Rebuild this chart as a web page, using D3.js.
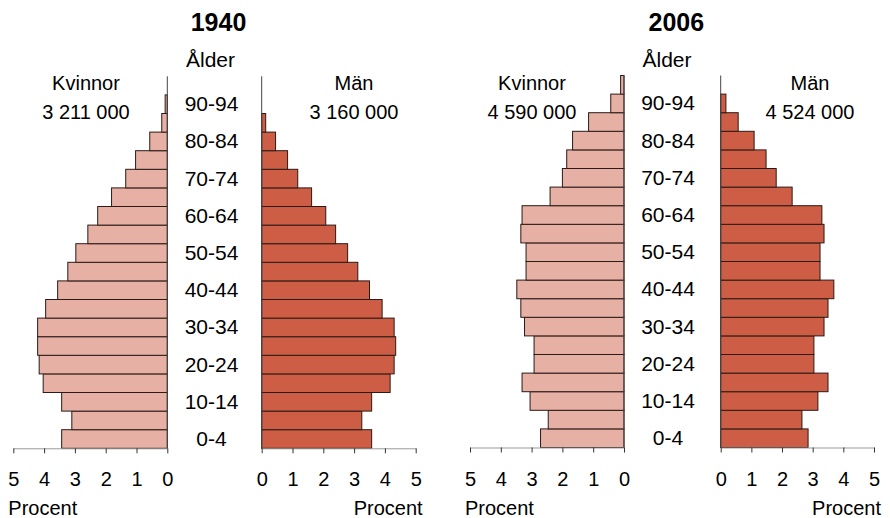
<!DOCTYPE html>
<html>
<head>
<meta charset="utf-8">
<script src="https://cdn.jsdelivr.net/npm/d3@7"></script>
<style>
  body { margin: 0; background: #fff; }
  text { font-family: 'Liberation Sans', Arial, sans-serif; fill: #000; }
</style>
</head>
<body>
<svg width="890" height="518"></svg>
<script>
// age groups, bottom to top
const ageGroups = ['0-4', '5-9', '10-14', '15-19', '20-24', '25-29', '30-34', '35-39',
  '40-44', '45-49', '50-54', '55-59', '60-64', '65-69', '70-74', '75-79',
  '80-84', '85-89', '90-94', '95+'];

// percent of population
const women1940 = [3.43, 3.10, 3.43, 4.03, 4.16, 4.21, 4.21, 3.95, 3.56, 3.23,
  2.97, 2.58, 2.26, 1.81, 1.35, 1.03, 0.57, 0.18, 0.07, 0];
const men1940 = [3.57, 3.25, 3.57, 4.17, 4.30, 4.35, 4.30, 3.91, 3.50, 3.12,
  2.79, 2.40, 2.08, 1.62, 1.17, 0.84, 0.45, 0.13, 0, 0];
const women2006 = [2.71, 2.46, 3.05, 3.31, 2.92, 2.92, 3.23, 3.35, 3.48, 3.18,
  3.18, 3.35, 3.31, 2.40, 2.00, 1.86, 1.67, 1.15, 0.43, 0.11];
const men2006 = [2.85, 2.65, 3.17, 3.50, 3.04, 3.04, 3.37, 3.50, 3.69, 3.24,
  3.24, 3.37, 3.30, 2.33, 1.81, 1.48, 1.09, 0.57, 0.17, 0];

const years = ['1940', '2006'];
const womenTotals = ['3 211 000', '4 590 000'];
const menTotals = ['3 160 000', '4 524 000'];
const tickValues = [0, 1, 2, 3, 4, 5];

const womenColor = '#e6b0a5';
const menColor = '#cd5e45';
const barStroke = '#2b1a15';

const svg = d3.select('svg');

const panels = [
  { year: years[0], women: women1940, men: men1940, wTot: womenTotals[0], mTot: menTotals[0],
    wx: [167.3, 13.3], mx: [261.7, 415.7], bottom: 448.3, labelX: 211.5, wText: 86, mText: 354 },
  { year: years[1], women: women2006, men: men2006, wTot: womenTotals[1], mTot: menTotals[1],
    wx: [624, 470], mx: [720.7, 874], bottom: 447.5, labelX: 668, wText: 532, mText: 810 }
];

panels.forEach(p => {
  const g = svg.append('g');
  const y = d3.scaleBand()
    .domain(ageGroups)
    .range([p.bottom, p.bottom - 18.6 * ageGroups.length])
    .padding(0);
  const xW = d3.scaleLinear().domain([0, 5]).range(p.wx);
  const xM = d3.scaleLinear().domain([0, 5]).range(p.mx);

  // bars
  g.selectAll('rect.w')
    .data(ageGroups.map((a, i) => ({ age: a, v: p.women[i] })).filter(d => d.v > 0))
    .join('rect')
    .attr('class', 'w')
    .attr('x', d => xW(d.v))
    .attr('y', d => y(d.age))
    .attr('width', d => xW(0) - xW(d.v))
    .attr('height', y.bandwidth())
    .attr('fill', womenColor)
    .attr('stroke', barStroke)
    .attr('stroke-width', 1);

  g.selectAll('rect.m')
    .data(ageGroups.map((a, i) => ({ age: a, v: p.men[i] })).filter(d => d.v > 0))
    .join('rect')
    .attr('class', 'm')
    .attr('x', xM(0))
    .attr('y', d => y(d.age))
    .attr('width', d => xM(d.v) - xM(0))
    .attr('height', y.bandwidth())
    .attr('fill', menColor)
    .attr('stroke', barStroke)
    .attr('stroke-width', 1);

  // vertical zero lines
  [xW(0), xM(0)].forEach(x0 => {
    g.append('line')
      .attr('x1', x0).attr('x2', x0)
      .attr('y1', y.range()[1]).attr('y2', p.bottom)
      .attr('stroke', '#444')
      .attr('stroke-width', 1);
  });

  // bottom axes
  [xW, xM].forEach(sc => {
    const ax = g.append('g')
      .attr('transform', `translate(0,${p.bottom})`)
      .call(d3.axisBottom(sc).tickValues(tickValues).tickFormat(d3.format('d'))
        .tickSize(5).tickSizeOuter(0).tickPadding(19));
    ax.select('.domain').attr('stroke', '#999');
    ax.selectAll('.tick line').attr('stroke', '#333');
    ax.selectAll('.tick text')
      .style('font-family', "'Liberation Sans', Arial, sans-serif")
      .style('font-size', '20px')
      .attr('fill', '#000');
  });

  // "Procent" labels
  g.append('text')
    .attr('x', p.wx[1] - 5)
    .attr('y', 515)
    .style('font-size', '20px')
    .text('Procent');
  g.append('text')
    .attr('x', p.mx[1] + 7)
    .attr('y', 515)
    .attr('text-anchor', 'end')
    .style('font-size', '20px')
    .text('Procent');

  // age labels (every other group)
  g.selectAll('text.age')
    .data(ageGroups.filter((a, i) => i % 2 === 0 && i < 19))
    .join('text')
    .attr('class', 'age')
    .attr('x', p.labelX)
    .attr('y', d => y(d) + y.bandwidth() / 2)
    .attr('dy', '0.33em')
    .attr('text-anchor', 'middle')
    .style('font-size', '21px')
    .text(d => d);

  g.append('text')
    .attr('x', p.labelX - 1)
    .attr('y', 67)
    .attr('text-anchor', 'middle')
    .style('font-size', '21px')
    .text('Ålder');

  g.append('text')
    .attr('x', (xM(0) + xW(0)) / 2 + 4)
    .attr('y', 31)
    .attr('text-anchor', 'middle')
    .style('font-size', '25px')
    .style('font-weight', 'bold')
    .text(p.year);

  // sex and totals
  g.append('text').attr('x', p.wText).attr('y', 90).attr('text-anchor', 'middle')
    .style('font-size', '20px').text('Kvinnor');
  g.append('text').attr('x', p.wText).attr('y', 119).attr('text-anchor', 'middle')
    .style('font-size', '20px').text(p.wTot);
  g.append('text').attr('x', p.mText).attr('y', 90).attr('text-anchor', 'middle')
    .style('font-size', '20px').text('Män');
  g.append('text').attr('x', p.mText).attr('y', 119).attr('text-anchor', 'middle')
    .style('font-size', '20px').text(p.mTot);
});
</script>
</body>
</html>
